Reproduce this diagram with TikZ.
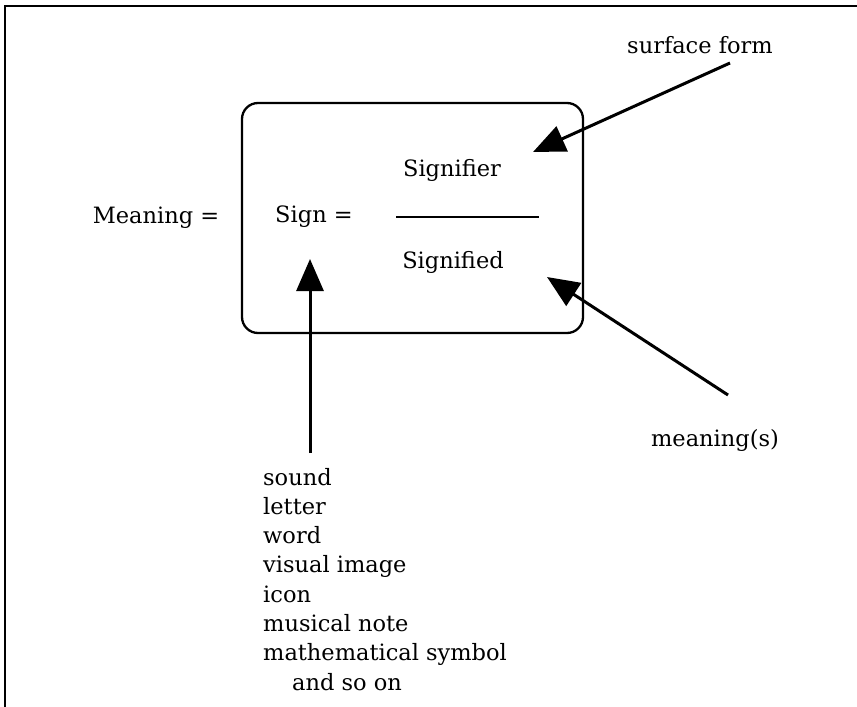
\documentclass[tikz,border=0pt]{standalone}
\usepackage{fontspec}
\setmainfont{DejaVu Serif}
\usetikzlibrary{arrows.meta}
\begin{document}
\begin{tikzpicture}[x=1pt,y=-1pt,
  lbl/.style={inner sep=0pt,font=\fontsize{22.5}{27}\selectfont},
  frameline/.style={line width=2.6pt},
  signbox/.style={line width=2.3pt,rounded corners=16pt},
  ptr/.style={line width=3pt,-{Triangle[length=32pt,width=27pt]}}]
\useasboundingbox (0,0) rectangle (857,707);
% outer frame (top and left edges only)
\draw[frameline] (5,707) -- (5,6) -- (857,6);
% sign box
\draw[signbox] (242,103) rectangle (583,333);
% texts
\node[lbl] (meaning) at (156,218) {Meaning =};
\node[lbl] (sign) at (314,217) {Sign =};
\node[lbl] (signifier) at (452,170) {Signifier};
\node[lbl] (signified) at (453,262) {Signified};
\coordinate (barL) at (396,217);
\coordinate (barR) at (539,217);
\draw[line width=2pt] (barL) -- (barR);
\node[lbl] (sform) at (700,45) {surface form};
\node[lbl] (smeaning) at (715,440) {meaning(s)};
% list
\node[lbl,anchor=base west] (l1) at (263,485) {sound};
\node[lbl,anchor=base west] (l2) at (263,514.3) {letter};
\node[lbl,anchor=base west] (l3) at (263,543.6) {word};
\node[lbl,anchor=base west] (l4) at (263,572.9) {visual image};
\node[lbl,anchor=base west] (l5) at (263,602.2) {icon};
\node[lbl,anchor=base west] (l6) at (263,631.5) {musical note};
\node[lbl,anchor=base west] (l7) at (263,660.8) {mathematical symbol};
\node[lbl,anchor=base west] (l8) at (292,690.1) {and so on};
% arrows
\coordinate (sfTail) at (730,63);
\coordinate (sfTip) at (533,152);
\coordinate (msTail) at (728,395);
\coordinate (msTip) at (547,277);
\coordinate (upTail) at (310,453);
\coordinate (upTip) at (310,259);
\draw[ptr] (sfTail) -- (sfTip);
\draw[ptr] (msTail) -- (msTip);
\draw[ptr] (upTail) -- (upTip);
\end{tikzpicture}
\end{document}
